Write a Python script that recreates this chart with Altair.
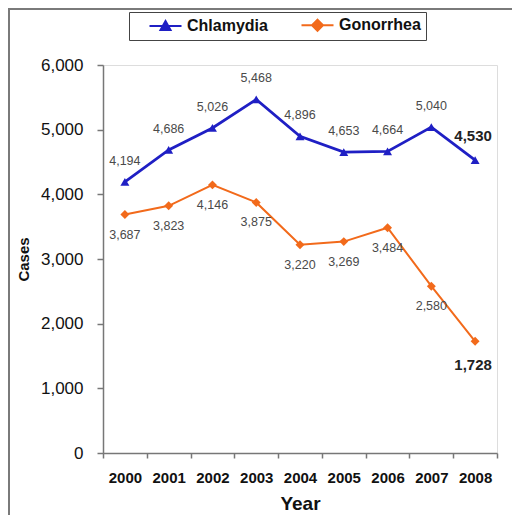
import altair as alt
import pandas as pd

FONT = "Liberation Sans"

years = ["2000", "2001", "2002", "2003", "2004", "2005", "2006", "2007", "2008"]
chlamydia = [4194, 4686, 5026, 5468, 4896, 4653, 4664, 5040, 4530]
gonorrhea = [3687, 3823, 4146, 3875, 3220, 3269, 3484, 2580, 1728]
series = ["Chlamydia", "Gonorrhea"]
colors = ["#1F1FC4", "#F26A1B"]
shapes = ["triangle-up", "diamond"]
widths = [2.8, 2.0]
label_dy = [-21, 20]
last_dy = [-24, 24]
y_ticks = [0, 1000, 2000, 3000, 4000, 5000, 6000]

rows = []
for yr, c, g in zip(years, chlamydia, gonorrhea):
    rows.append({"Year": yr, "Disease": series[0], "Cases": c})
    rows.append({"Year": yr, "Disease": series[1], "Cases": g})
df = pd.DataFrame(rows)
df["last"] = df["Year"] == years[-1]

# legend glyphs: a short line with the marker in its middle
tri = "M1.5,0L7.9,0M4.7,-1L5.7,0.8L3.7,0.8Z"
dia = "M1.5,0L7.9,0M4.7,-1.1L5.8,0L4.7,1.1L3.6,0Z"

legend = alt.Legend(
    title=None, orient="none", legendX=26, legendY=-53, direction="horizontal",
    labelFont=FONT, labelFontSize=16, labelFontWeight="bold", labelColor="#111111",
    symbolSize=100, symbolStrokeWidth=2, symbolOpacity=1,
    labelOffset=37, columnPadding=18, padding=5,
    strokeColor="#444444", fillColor="white",
)

x = alt.X(
    "Year:O",
    scale=alt.Scale(type="band", paddingInner=0, paddingOuter=0),
    axis=alt.Axis(
        title="Year", titleFont=FONT, titleFontSize=19, titleFontWeight="bold",
        titleColor="#111111", titlePadding=9,
        labelAngle=0, labelFont=FONT, labelFontSize=15, labelFontWeight="bold",
        labelColor="#111111", labelPadding=12, tickBand="extent",
        domainColor="#777777", domainWidth=1.5, tickColor="#777777", tickWidth=1.5, tickSize=5,
    ),
)
y = alt.Y(
    "Cases:Q",
    scale=alt.Scale(domain=[0, 6000], nice=False),
    axis=alt.Axis(
        title="Cases", titleFont=FONT, titleFontSize=15, titleFontWeight="bold",
        titleColor="#111111", titlePadding=9,
        values=y_ticks, format=",.0f", grid=False,
        labelFont=FONT, labelFontSize=17, labelColor="#111111", labelPadding=14,
        domainColor="#777777", domainWidth=1.5, tickColor="#777777", tickWidth=1.5, tickSize=6,
    ),
)

base = alt.Chart(df)
txt = alt.Text("Cases:Q", format=",.0f")

layers = []

frame = alt.Chart(alt.Data(values=[{"f": 1}])).mark_rect(
    fillOpacity=0, stroke="#7a7a7a", strokeWidth=2
).encode(x=alt.value(-94), x2=alt.value(440), y=alt.value(-56), y2=alt.value(480))
layers.append(frame)

# legend-only layer (no rows drawn; domains fixed so the legend lists both series)
legend_layer = base.transform_filter("false").mark_point(filled=True, strokeWidth=2, opacity=1).encode(
    x=x, y=y,
    fill=alt.Fill("Disease:N", scale=alt.Scale(domain=series, range=colors), legend=legend),
    stroke=alt.Stroke("Disease:N", scale=alt.Scale(domain=series, range=colors), legend=legend),
    shape=alt.Shape("Disease:N", scale=alt.Scale(domain=series, range=[tri, dia]), legend=legend),
)
layers.append(legend_layer)

for name, col, shp, w, dy, ldy in zip(series, colors, shapes, widths, label_dy, last_dy):
    sub = base.transform_filter(alt.datum.Disease == name)
    layers.append(sub.mark_line(color=col, strokeWidth=w).encode(x=x, y=y))
    layers.append(sub.mark_point(filled=True, opacity=1, color=col, shape=shp, size=80).encode(x=x, y=y))
    layers.append(
        sub.transform_filter("!datum.last").mark_text(
            dy=dy, font=FONT, fontSize=12.5, color="#4a4a4a", baseline="middle", align="center"
        ).encode(x=x, y=y, text=txt)
    )
    layers.append(
        sub.transform_filter("datum.last").mark_text(
            dy=ldy, dx=-2, font=FONT, fontSize=15, fontWeight="bold", color="#222222",
            baseline="middle", align="center"
        ).encode(x=x, y=y, text=txt)
    )

chart = alt.layer(*layers).properties(
    width=394, height=388,
    autosize=alt.AutoSizeParams(type="none"),
    padding={"left": 95, "top": 57, "right": 15, "bottom": 62},
).configure_view(stroke="#9a9a9a", strokeWidth=1.2).configure(font=FONT)

chart.save("out.html", embed_options={"renderer": "svg", "actions": False})
